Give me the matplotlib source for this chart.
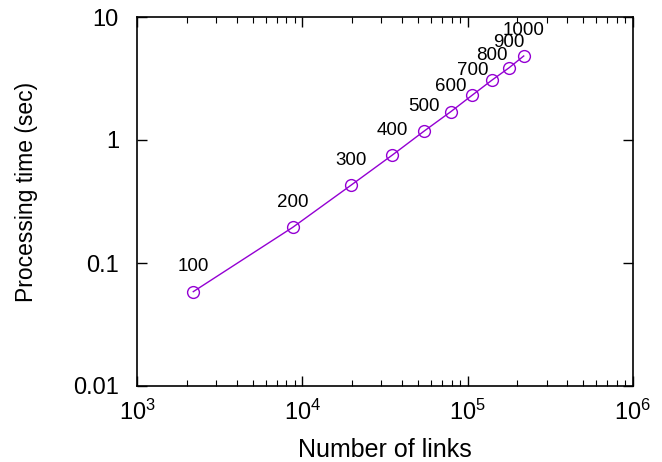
import matplotlib
matplotlib.use("Agg")
import matplotlib.pyplot as plt
from matplotlib.ticker import LogLocator, FixedLocator, NullLocator, FixedFormatter

plt.rcParams['font.family'] = ['Liberation Sans', 'DejaVu Sans']
plt.rcParams['mathtext.fontset'] = 'custom'
plt.rcParams['mathtext.rm'] = 'Liberation Sans'

links = [2190, 8750, 19700, 35050, 54450, 79100, 106800, 139900, 177300, 218300]
times = [0.0585, 0.195, 0.429, 0.755, 1.18, 1.70, 2.32, 3.06, 3.85, 4.82]
point_labels = ["100", "200", "300", "400", "500", "600", "700", "800", "900", "1000"]
x_ticks = [1e3, 1e4, 1e5, 1e6]
x_ticklabels = [r"$\mathregular{10^{3}}$", r"$\mathregular{10^{4}}$", r"$\mathregular{10^{5}}$", r"$\mathregular{10^{6}}$"]
y_ticks = [0.01, 0.1, 1, 10]
y_ticklabels = ["0.01", "0.1", "1", "10"]

fig = plt.figure(figsize=(6.62, 4.62), dpi=100)
ax = fig.add_axes([137/662, 1-386/462, (633-137)/662, (386-17)/462])

ax.plot(links, times, color='#9400D3', lw=1.0, marker='o', markersize=8.5,
        markerfacecolor='none', markeredgecolor='#9400D3', markeredgewidth=1.0)
for x, y, t in zip(links, times, point_labels):
    ax.annotate(t, (x, y), xytext=(0, 18), textcoords='offset points',
                ha='center', va='center', fontsize=13.5, color='black')

ax.set_xscale('log')
ax.set_yscale('log')
ax.set_xlim(1e3, 1e6)
ax.set_ylim(0.01, 10)
ax.xaxis.set_major_locator(FixedLocator(x_ticks))
ax.xaxis.set_major_formatter(FixedFormatter(x_ticklabels))
ax.xaxis.set_minor_locator(LogLocator(base=10, subs=range(2, 10)))
ax.yaxis.set_major_locator(FixedLocator(y_ticks))
ax.yaxis.set_major_formatter(FixedFormatter(y_ticklabels))
ax.yaxis.set_minor_locator(NullLocator())

ax.tick_params(which='both', direction='in', top=True, right=True, labelsize=17)
ax.tick_params(which='major', length=7, width=1)
ax.tick_params(which='minor', length=4, width=0.8)
ax.tick_params(axis='y', pad=13)
ax.tick_params(axis='x', pad=10)
for s in ax.spines.values():
    s.set_linewidth(1.2)

ax.set_xlabel("Number of links", fontsize=18)
ax.set_ylabel("Processing time (sec)", fontsize=16.5)
ax.xaxis.set_label_coords(0.5, -(438 - 386) / 369)
ax.yaxis.set_label_coords((38 - 137) / 496, (386 - 192) / 369)

fig.savefig("out.png", dpi=100)
